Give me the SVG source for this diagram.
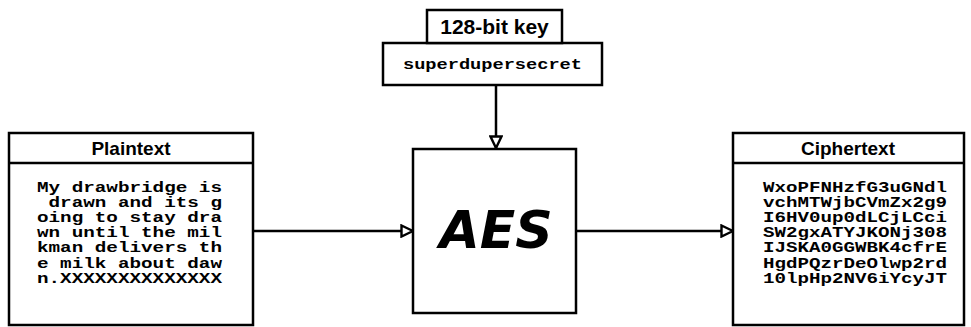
<svg xmlns="http://www.w3.org/2000/svg" width="971" height="327" viewBox="0 0 971 327">
<style>
.box{fill:#fff;stroke:#000;stroke-width:2.5}
.hdr{font-family:"Liberation Sans",Arial,sans-serif;font-weight:bold;font-size:19px;text-anchor:middle;fill:#000}
.mono{font-family:"Liberation Mono","Courier New",monospace;font-weight:bold;font-size:14.5px;fill:#000}
.conn{stroke:#000;stroke-width:2.5;fill:none}
</style>
<defs>
<marker id="tri" viewBox="0 0 14 14" refX="13" refY="7" markerWidth="14" markerHeight="14" markerUnits="userSpaceOnUse" orient="auto">
<path d="M1.5,1.5 L13,7 L1.5,12.5 Z" fill="#fff" stroke="#000" stroke-width="2.4"/>
</marker>
</defs>
<g id="connectors">
<line class="conn" x1="496" y1="85" x2="496" y2="148" marker-end="url(#tri)"/>
<line class="conn" x1="253" y1="231" x2="413" y2="231" marker-end="url(#tri)"/>
<line class="conn" x1="576" y1="231" x2="733" y2="231" marker-end="url(#tri)"/>
</g>
<g id="key">
<rect class="box" x="383" y="43" width="219" height="42"/>
<text class="mono" x="403" y="69" style="font-size:15px" textLength="179" lengthAdjust="spacingAndGlyphs">superdupersecret</text>
<rect class="box" x="427" y="10" width="135" height="33"/>
<text class="hdr" x="494.5" y="34" style="font-size:21px">128-bit key</text>
</g>
<g id="aes">
<rect class="box" x="413" y="149" width="163" height="164"/>
<text x="496" y="248" font-family="'DejaVu Sans',Verdana,sans-serif" font-weight="bold" font-style="italic" font-size="52" text-anchor="middle">AES</text>
</g>
<g id="plaintext">
<rect class="box" x="9" y="133" width="244" height="192"/>
<line class="conn" x1="9" y1="163" x2="253" y2="163"/>
<text class="hdr" x="131" y="155">Plaintext</text>
<g class="mono">
<text x="37" y="192" textLength="185" lengthAdjust="spacingAndGlyphs">My drawbridge is</text>
<text x="37" y="207" textLength="185" lengthAdjust="spacingAndGlyphs">&#160;drawn and its g</text>
<text x="37" y="222" textLength="185" lengthAdjust="spacingAndGlyphs">oing to stay dra</text>
<text x="37" y="237" textLength="185" lengthAdjust="spacingAndGlyphs">wn until the mil</text>
<text x="37" y="252" textLength="185" lengthAdjust="spacingAndGlyphs">kman delivers th</text>
<text x="37" y="268" textLength="185" lengthAdjust="spacingAndGlyphs">e milk about daw</text>
<text x="37" y="283" textLength="185" lengthAdjust="spacingAndGlyphs">n.XXXXXXXXXXXXXX</text>
</g>
</g>
<g id="ciphertext">
<rect class="box" x="733" y="133" width="231" height="192"/>
<line class="conn" x1="733" y1="163" x2="964" y2="163"/>
<text class="hdr" x="848" y="155">Ciphertext</text>
<g class="mono">
<text x="763" y="192" textLength="184" lengthAdjust="spacingAndGlyphs">WxoPFNHzfG3uGNdl</text>
<text x="763" y="207" textLength="184" lengthAdjust="spacingAndGlyphs">vchMTWjbCVmZx2g9</text>
<text x="763" y="222" textLength="184" lengthAdjust="spacingAndGlyphs">I6HV0up0dLCjLCci</text>
<text x="763" y="237" textLength="184" lengthAdjust="spacingAndGlyphs">SW2gxATYJKONj308</text>
<text x="763" y="252" textLength="184" lengthAdjust="spacingAndGlyphs">IJSKA0GGWBK4cfrE</text>
<text x="763" y="268" textLength="184" lengthAdjust="spacingAndGlyphs">HgdPQzrDeOlwp2rd</text>
<text x="763" y="283" textLength="184" lengthAdjust="spacingAndGlyphs">10lpHp2NV6iYcyJT</text>
</g>
</g>
</svg>
